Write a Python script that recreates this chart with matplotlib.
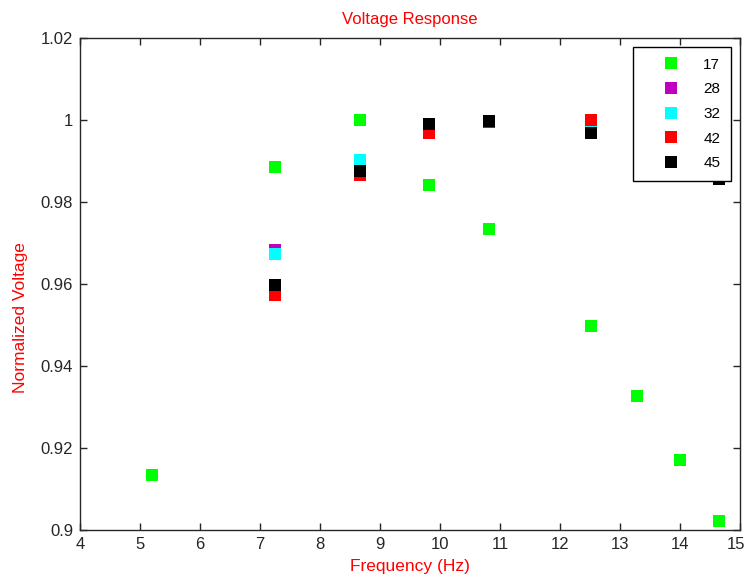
import matplotlib
matplotlib.use("Agg")
import matplotlib.pyplot as plt
from matplotlib.transforms import ScaledTranslation

plt.rcParams['font.family'] = ['Liberation Sans', 'DejaVu Sans']

# measurement frequencies (Hz)
freq = [5.2, 7.25, 8.67, 9.82, 10.82, 12.52, 13.29, 14.0, 14.65]

# normalized voltage per run (None = not measured)
v17 = [0.9134, 0.9885, 1.0, 0.9842, 0.9734, 0.9498, 0.9327, 0.9171, 0.9022]
v28 = [None, 0.9683, 0.9890, 0.9980, 0.9997, 0.9990, None, None, 0.9890]
v32 = [None, 0.9673, 0.9902, 0.9982, 0.9998, 0.9985, None, None, 0.9885]
v42 = [None, 0.9573, 0.9866, 0.9968, 0.9994, 1.0, None, None, 0.9880]
v45 = [None, 0.9598, 0.9876, 0.9990, 0.9998, 0.9968, None, None, 0.9857]

labels = ['17', '28', '32', '42', '45']
colors = ['#00ff00', '#bf00bf', '#00ffff', '#ff0000', '#000000']
series = [v17, v28, v32, v42, v45]

fig = plt.figure(figsize=(7.45, 5.79), dpi=100)
ax = fig.add_axes([0.1074, 0.0846, 0.8859, 0.8498])

for vals, col, lab in zip(series, colors, labels):
    xs = [f for f, v in zip(freq, vals) if v is not None]
    ys = [v for v in vals if v is not None]
    ax.plot(xs, ys, linestyle='none', marker='s', markersize=8.6,
            markeredgewidth=0, color=col, label=lab)

ax.set_xlim(4, 15)
ax.set_ylim(0.9, 1.02)
ax.set_xticks(range(4, 16))
ax.set_yticks([0.9, 0.92, 0.94, 0.96, 0.98, 1.0, 1.02])
ax.set_yticklabels(['0.9', '0.92', '0.94', '0.96', '0.98', '1', '1.02'])

ax.tick_params(direction='in', top=True, right=True, length=5, width=1,
               labelsize=12, colors='#262626', pad=5)
for sp in ax.spines.values():
    sp.set_color('#262626')
    sp.set_linewidth(1)

ax.set_title('Voltage Response', color='red', fontsize=12, pad=10)
ax.set_xlabel('Frequency (Hz)', color='red', fontsize=12.5, labelpad=5)
ax.set_ylabel('Normalized Voltage', color='red', fontsize=12.5)
ax.yaxis.set_label_coords(-0.079, 0.431)

leg = ax.legend(loc='upper right', fontsize=11, frameon=True, fancybox=False,
                framealpha=1, edgecolor='black', borderpad=0.7,
                handlelength=3.57, handletextpad=0.31, labelspacing=0.7,
                borderaxespad=0.59)
leg.get_frame().set_linewidth(1)

# nudge the last x tick label so it stays inside the figure
fig.canvas.draw()
last = ax.get_xticklabels()[-1]
last.set_transform(last.get_transform() + ScaledTranslation(-4 / 100, 0, fig.dpi_scale_trans))

fig.savefig('out.png', dpi=100)
